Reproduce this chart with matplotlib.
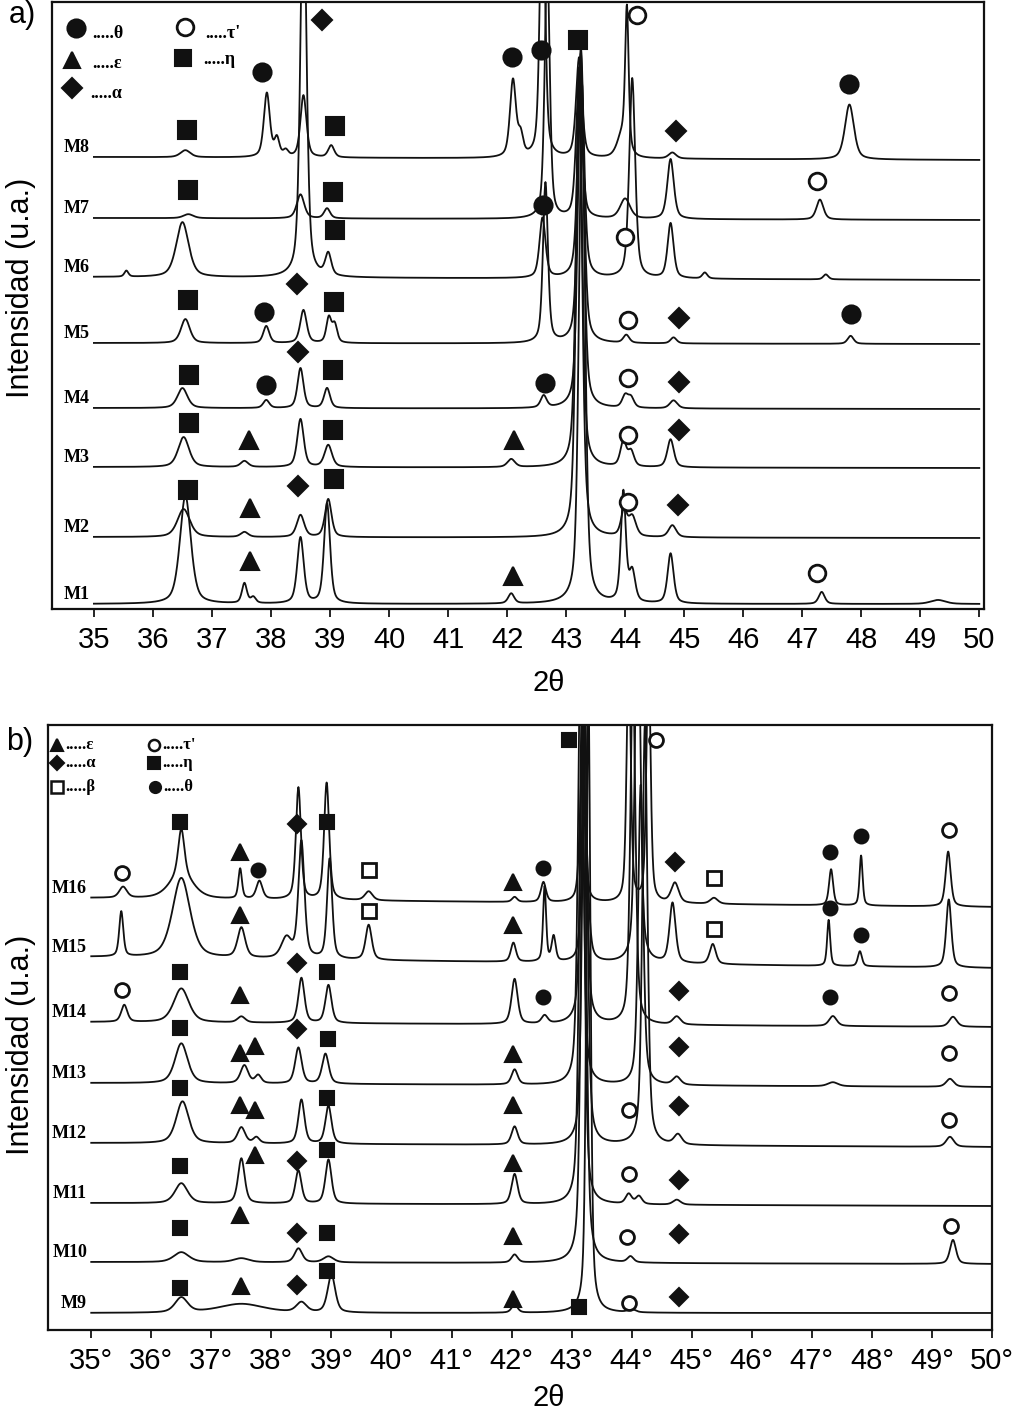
import numpy as np
import matplotlib.pyplot as plt

# 2theta grid for the diffractograms
two_theta = np.linspace(35, 50, 3001)

# ---- panel a: traces M1..M8, baseline offset (left, right) and peaks (pos, height, fwhm)
a_names = ['M1', 'M2', 'M3', 'M4', 'M5', 'M6', 'M7', 'M8']
a_base = [(5, 5), (72, 71), (142, 141), (201, 200), (266, 265), (332, 329), (391, 389), (452, 449)]

m1_peaks = [(36.55, 108, 0.22), (37.55, 20, 0.1), (37.7, 6, 0.1), (38.5, 66, 0.13), (38.95, 100, 0.12),
            (42.07, 10, 0.12), (43.27, 520, 0.12), (43.97, 110, 0.1), (44.12, 30, 0.12),
            (44.77, 50, 0.12), (47.33, 12, 0.12), (49.3, 4, 0.3)]
m2_peaks = [(36.52, 28, 0.25), (37.55, 5, 0.15), (38.5, 22, 0.15), (38.97, 38, 0.13), (43.22, 470, 0.12),
            (43.98, 25, 0.12), (44.12, 20, 0.15), (44.8, 12, 0.15)]
m3_peaks = [(36.52, 30, 0.22), (37.55, 6, 0.15), (38.5, 48, 0.13), (38.97, 22, 0.15), (42.07, 8, 0.15),
            (43.22, 400, 0.12), (43.97, 25, 0.12), (44.1, 15, 0.12), (44.77, 28, 0.13)]
m4_peaks = [(36.5, 20, 0.2), (37.92, 8, 0.12), (38.5, 40, 0.12), (38.95, 20, 0.12), (42.62, 12, 0.12),
            (43.25, 340, 0.12), (44.0, 12, 0.12), (44.1, 10, 0.12), (44.82, 8, 0.15)]
m5_peaks = [(36.55, 24, 0.18), (37.92, 17, 0.12), (38.55, 33, 0.13), (38.98, 25, 0.1), (39.08, 18, 0.1),
            (42.65, 160, 0.1), (43.25, 290, 0.12), (44.02, 8, 0.12), (44.82, 6, 0.12), (47.82, 8, 0.12)]
m6_peaks = [(35.55, 6, 0.08), (36.5, 55, 0.25), (38.55, 400, 0.12), (38.97, 22, 0.12), (42.6, 60, 0.12),
            (43.25, 230, 0.12), (44.12, 200, 0.12), (44.77, 55, 0.12), (45.35, 6, 0.1), (47.4, 5, 0.1)]
m7_peaks = [(36.6, 4, 0.2), (38.5, 24, 0.15), (38.95, 10, 0.12), (42.68, 260, 0.1), (43.22, 140, 0.12),
            (44.0, 20, 0.2), (44.77, 60, 0.13), (47.3, 20, 0.14)]
m8_peaks = [(36.55, 7, 0.2), (37.93, 64, 0.12), (38.1, 18, 0.1), (38.25, 6, 0.1), (38.55, 62, 0.12),
            (39.02, 12, 0.12), (42.1, 77, 0.12), (42.23, 20, 0.1), (42.6, 300, 0.1), (43.22, 100, 0.12),
            (43.95, 22, 0.2), (44.03, 140, 0.07), (44.8, 6, 0.15), (47.8, 55, 0.18)]
a_peaks = [m1_peaks, m2_peaks, m3_peaks, m4_peaks, m5_peaks, m6_peaks, m7_peaks, m8_peaks]

# phase markers panel a (2theta, intensity)
a_theta = [(37.85, 537), (42.08, 552), (42.58, 559), (47.80, 525), (42.61, 404), (37.88, 297),
           (47.83, 295), (37.92, 224), (42.64, 226)]
a_tau = [(44.20, 594), (47.25, 428), (44.00, 372), (44.05, 289), (44.05, 231), (44.05, 174),
         (44.05, 107), (47.25, 36)]
a_eta = [(36.58, 479), (39.08, 483), (43.20, 569), (36.59, 419), (39.05, 417), (39.08, 379),
         (36.59, 309), (39.07, 307), (36.61, 234), (39.05, 239), (36.61, 186), (39.05, 179),
         (36.59, 119), (39.07, 130)]
a_alpha = [(38.86, 589), (44.86, 478), (38.44, 325), (44.92, 291), (38.46, 257), (44.92, 227),
           (44.92, 179), (38.46, 123), (44.90, 104)]
a_eps = [(37.63, 169), (42.12, 169), (37.64, 101), (37.64, 48), (42.10, 33)]

# ---- panel b: traces M9..M16
b_names = ['M9', 'M10', 'M11', 'M12', 'M13', 'M14', 'M15', 'M16']
b_base = [(17, 17), (68, 66), (127, 124), (187, 183), (247, 243), (308, 303), (373, 362), (432, 423)]

m9_peaks = [(36.5, 15, 0.25), (37.5, 9, 0.9), (38.5, 10, 0.2), (39.0, 38, 0.15), (42.05, 8, 0.12),
            (43.28, 620, 0.08), (44.0, 3, 0.15)]
m10_peaks = [(36.5, 10, 0.3), (37.5, 4, 0.3), (38.45, 14, 0.15), (38.95, 6, 0.2), (42.05, 8, 0.12),
             (43.2, 560, 0.1), (43.98, 6, 0.12), (49.35, 24, 0.12)]
m11_peaks = [(36.5, 20, 0.25), (37.5, 45, 0.13), (38.45, 33, 0.12), (38.95, 44, 0.12), (42.05, 30, 0.12),
             (43.17, 500, 0.1), (43.95, 10, 0.12), (44.12, 8, 0.12), (44.75, 5, 0.15)]
m12_peaks = [(36.52, 42, 0.25), (37.5, 16, 0.15), (37.75, 6, 0.12), (38.5, 44, 0.12), (38.95, 38, 0.12),
             (42.05, 18, 0.12), (43.22, 450, 0.1), (44.22, 420, 0.1), (44.77, 10, 0.15), (49.3, 10, 0.15)]
m13_peaks = [(36.5, 40, 0.25), (37.55, 18, 0.15), (37.78, 8, 0.12), (38.45, 36, 0.13), (38.9, 30, 0.13),
             (42.05, 15, 0.12), (43.15, 450, 0.1), (44.15, 300, 0.1), (44.75, 8, 0.15), (47.35, 4, 0.2),
             (49.3, 8, 0.15)]
m14_peaks = [(35.55, 17, 0.12), (36.5, 34, 0.3), (37.5, 6, 0.15), (38.5, 45, 0.12), (38.95, 38, 0.12),
             (42.05, 45, 0.12), (42.55, 8, 0.12), (43.2, 400, 0.1), (44.02, 350, 0.1), (44.75, 8, 0.15),
             (47.35, 10, 0.15), (49.35, 10, 0.15)]
m15_peaks = [(35.5, 45, 0.08), (36.5, 80, 0.35), (37.5, 30, 0.15), (38.25, 20, 0.2), (38.5, 117, 0.12),
             (38.97, 100, 0.1), (39.62, 35, 0.12), (42.03, 19, 0.1), (42.55, 75, 0.06), (42.7, 25, 0.08),
             (43.22, 145, 0.12), (44.1, 400, 0.1), (44.68, 60, 0.12), (45.35, 20, 0.12),
             (47.28, 46, 0.06), (47.8, 15, 0.08), (49.28, 68, 0.1)]
m16_peaks = [(35.53, 11, 0.15), (36.5, 45, 0.12), (36.5, 25, 0.45), (37.48, 30, 0.07), (37.8, 18, 0.12),
             (38.45, 112, 0.1), (38.92, 117, 0.1), (39.62, 9, 0.15), (42.05, 5, 0.1), (42.53, 20, 0.1),
             (43.18, 145, 0.1), (43.95, 250, 0.08), (44.28, 250, 0.08), (44.72, 20, 0.15),
             (45.37, 6, 0.15), (47.32, 36, 0.08), (47.82, 50, 0.06), (49.27, 55, 0.1)]
b_peaks = [m9_peaks, m10_peaks, m11_peaks, m12_peaks, m13_peaks, m14_peaks, m15_peaks, m16_peaks]

# phase markers panel b
b_theta = [(37.78, 460), (42.53, 462), (47.30, 478), (47.82, 494), (47.30, 422), (47.82, 395),
           (42.53, 333), (47.30, 333)]
b_tau = [(35.52, 457), (44.40, 590), (49.28, 500), (35.52, 340), (49.28, 337), (49.28, 277),
         (43.95, 220), (49.28, 210), (43.95, 156), (43.93, 93), (49.32, 104), (43.95, 27)]
b_eta = [(36.48, 508), (38.92, 508), (42.95, 590), (36.48, 358), (38.92, 358), (36.48, 302),
         (38.95, 291), (36.48, 242), (38.93, 232), (36.48, 164), (38.93, 180), (36.48, 102),
         (38.92, 97), (36.48, 42), (38.92, 59), (43.12, 23)]
b_alpha = [(38.43, 506), (44.72, 468), (38.43, 367), (44.78, 339), (38.43, 301), (44.78, 283),
           (44.78, 224), (38.43, 169), (44.78, 150), (38.43, 97), (44.78, 96), (38.43, 45), (44.78, 33)]
b_eps = [(37.48, 478), (42.03, 448), (37.48, 415), (42.03, 405), (37.47, 335), (37.47, 277),
         (37.72, 284), (42.03, 276), (37.47, 225), (37.72, 220), (42.03, 225), (37.73, 175),
         (42.03, 167), (37.47, 115), (42.03, 94), (37.50, 44), (42.03, 31)]
b_beta = [(39.62, 460), (39.62, 419), (45.37, 452), (45.37, 401)]

a_ticks = [str(t) for t in range(35, 51)]
b_ticks = [str(t) + '°' for t in range(35, 51)]

K = '#111111'
serif = ['Liberation Serif', 'DejaVu Serif']
plt.rcParams['font.family'] = ['Liberation Sans', 'DejaVu Sans']


def profile(peaks, base):
    y = base[0] + (base[1] - base[0]) * (two_theta - 35) / 15
    for pos, h, w in peaks:
        lor = 1 / (1 + ((two_theta - pos) / (w / 2)) ** 2)
        gau = np.exp(-4 * np.log(2) * ((two_theta - pos) / w) ** 2)
        y = y + h * (0.5 * lor + 0.5 * gau)
    return y


def marks(ax, pts, marker, ms, filled=True, mew=1.5):
    xs = [p[0] for p in pts]
    ys = [p[1] for p in pts]
    ax.plot(xs, ys, linestyle='none', marker=marker, ms=ms, mec=K, mew=mew,
            mfc=K if filled else 'white', clip_on=False, zorder=5)


def setup(ax, labels, xlim, ylim):
    ax.set_xlim(*xlim)
    ax.set_ylim(*ylim)
    ax.set_xticks(range(35, 51))
    ax.set_xticklabels(labels, fontsize=21)
    ax.set_yticks([])
    ax.tick_params(axis='x', direction='out', length=6, width=1.2, pad=6)
    for s in ax.spines.values():
        s.set_linewidth(1.6)
        s.set_color(K)


fig = plt.figure(figsize=(10.15, 14.13), dpi=100)
ax_a = fig.add_axes([52 / 1015, 804 / 1413, 932 / 1015, 607 / 1413])
ax_b = fig.add_axes([48 / 1015, 83 / 1413, 944 / 1015, 605 / 1413])

# panel a
for name, base, peaks in zip(a_names, a_base, a_peaks):
    ax_a.plot(two_theta, profile(peaks, base), color=K, lw=1.3)
    ax_a.text(34.93, base[0] + 1, name, ha='right', va='bottom', fontsize=13,
              fontweight='bold', family=serif)
setup(ax_a, a_ticks, (34.29, 50.08), (0, 607))
marks(ax_a, a_theta, 'o', 13)
marks(ax_a, a_tau, 'o', 12, filled=False, mew=2)
marks(ax_a, a_eta, 's', 12.5)
marks(ax_a, a_alpha, 'D', 10)
marks(ax_a, a_eps, '^', 13)

# legend panel a
marks(ax_a, [(34.69, 581)], 'o', 13)
marks(ax_a, [(34.63, 549)], '^', 12)
marks(ax_a, [(34.63, 521)], 'D', 10)
marks(ax_a, [(36.54, 582)], 'o', 12, filled=False, mew=2)
marks(ax_a, [(36.51, 551)], 's', 11)
for x, y, s in [(34.97, 576, '.....θ'), (34.97, 546, '.....ε'), (34.93, 516, '.....α'),
                (36.88, 576, '.....τ\''), (36.85, 549, '.....η')]:
    ax_a.text(x, y, s, ha='left', va='center', fontsize=13, fontweight='bold', family=serif)

# panel b
for name, base, peaks in zip(b_names, b_base, b_peaks):
    ax_b.plot(two_theta, profile(peaks, base), color=K, lw=1.3)
    ax_b.text(34.93, base[0] + 1, name, ha='right', va='bottom', fontsize=13,
              fontweight='bold', family=serif)
setup(ax_b, b_ticks, (34.28, 50.0), (0, 605))
marks(ax_b, b_theta, 'o', 10)
marks(ax_b, b_tau, 'o', 10, filled=False, mew=2)
marks(ax_b, b_eta, 's', 10)
marks(ax_b, b_alpha, 'D', 9)
marks(ax_b, b_eps, '^', 11)
marks(ax_b, b_beta, 's', 10, filled=False, mew=2)

# legend panel b
marks(ax_b, [(34.43, 585)], '^', 8)
marks(ax_b, [(34.43, 567)], 'D', 7)
marks(ax_b, [(34.43, 543)], 's', 8, filled=False, mew=1.8)
marks(ax_b, [(36.05, 585)], 'o', 8, filled=False, mew=1.8)
marks(ax_b, [(36.05, 567)], 's', 8)
marks(ax_b, [(36.07, 543)], 'o', 8)
for x, y, s in [(34.57, 585, '.....ε'), (34.57, 567, '.....α'), (34.57, 543, '.....β'),
                (36.18, 585, '.....τ\''), (36.18, 567, '.....η'), (36.2, 543, '.....θ')]:
    ax_b.text(x, y, s, ha='left', va='center', fontsize=12, fontweight='bold', family=serif)

# axis titles and panel letters
fig.text(21 / 1015, 1 - 288 / 1413, 'Intensidad (u.a.)', rotation=90, ha='center', va='center', fontsize=22)
fig.text(21 / 1015, 1 - 1045 / 1413, 'Intensidad (u.a.)', rotation=90, ha='center', va='center', fontsize=22)
fig.text(549 / 1015, 1 - 683 / 1413, '2θ', ha='center', va='center', fontsize=21)
fig.text(549 / 1015, 1 - 1398 / 1413, '2θ', ha='center', va='center', fontsize=21)
fig.text(22 / 1015, 1 - 15 / 1413, 'a)', ha='center', va='center', fontsize=22)
fig.text(20 / 1015, 1 - 742 / 1413, 'b)', ha='center', va='center', fontsize=22)

fig.savefig('out.png', dpi=100)
